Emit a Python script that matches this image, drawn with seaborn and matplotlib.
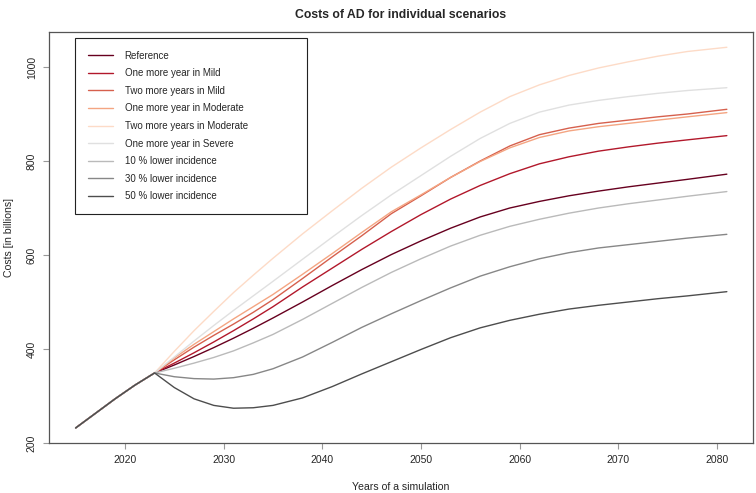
import numpy as np
import pandas as pd
import matplotlib
matplotlib.use("Agg")
import matplotlib.pyplot as plt
import seaborn as sns

# ---- data ----
history_years = [2015, 2017, 2019, 2021]
history_costs = [232, 263, 294, 323]

years = [2023, 2025, 2027, 2029, 2031, 2033, 2035, 2038, 2041, 2044, 2047,
         2050, 2053, 2056, 2059, 2062, 2065, 2068, 2071, 2074, 2077, 2081]

reference = [349, 366, 384, 403, 423, 444, 466, 500, 535, 569, 601,
             630, 657, 681, 700, 714, 726, 736, 745, 753, 761, 772]
mild_1 = [349, 370, 392, 415, 439, 464, 490, 532, 572, 612, 650,
          686, 719, 748, 773, 794, 809, 821, 830, 838, 845, 854]
mild_2 = [349, 377, 404, 429, 453, 478, 505, 550, 596, 641, 688,
          726, 765, 800, 832, 856, 870, 880, 887, 894, 900, 910]
moderate_1 = [349, 381, 410, 437, 464, 490, 516, 559, 603, 648, 692,
              728, 765, 799, 828, 850, 864, 873, 880, 887, 894, 903]
moderate_2 = [349, 395, 439, 480, 520, 557, 593, 645, 694, 742, 787,
              828, 867, 904, 937, 962, 982, 998, 1011, 1023, 1033, 1042]
severe_1 = [349, 383, 417, 450, 482, 513, 544, 591, 638, 684, 728,
            769, 810, 848, 880, 904, 919, 929, 937, 944, 950, 956]
lower_10 = [349, 359, 370, 382, 396, 413, 431, 463, 497, 531, 563,
            592, 619, 642, 661, 676, 689, 700, 709, 717, 725, 735]
lower_30 = [349, 341, 337, 336, 339, 346, 358, 383, 414, 446, 475,
            503, 530, 555, 575, 592, 605, 615, 622, 629, 636, 644]
lower_50 = [349, 318, 294, 280, 274, 275, 280, 296, 320, 347, 373,
            399, 424, 445, 461, 474, 485, 493, 500, 507, 513, 522]

scenarios = ["Reference", "One more year in Mild", "Two more years in Mild",
             "One more year in Moderate", "Two more years in Moderate",
             "One more year in Severe", "10 % lower incidence",
             "30 % lower incidence", "50 % lower incidence"]
series = [reference, mild_1, mild_2, moderate_1, moderate_2, severe_1,
          lower_10, lower_30, lower_50]
colors = ["#67001F", "#B2182B", "#D6604D", "#F4A582", "#FDDBC7",
          "#E0E0E0", "#BABABA", "#878787", "#4D4D4D"]

x_ticks = [2020, 2030, 2040, 2050, 2060, 2070, 2080]
y_ticks = [200, 400, 600, 800, 1000]

rows = []
for name, vals in zip(scenarios, series):
    for y, v in zip(history_years + years, history_costs + vals):
        rows.append({"Year": y, "Cost": v, "Scenario": name})
df = pd.DataFrame(rows)

# ---- style ----
sns.set_style("white")
plt.rcParams["font.family"] = ["Liberation Sans", "DejaVu Sans"]

fig = plt.figure(figsize=(7.56, 4.93), dpi=100)
ax = fig.add_axes([49 / 756, 1 - 443 / 493, 704 / 756, 411 / 493])

sns.lineplot(data=df, x="Year", y="Cost", hue="Scenario", hue_order=scenarios,
             palette=colors, ax=ax, linewidth=1.0, legend=True)

ax.set_xlim(2012.3, 2083.65)
ax.set_ylim(200, 1074.5)
ax.set_xticks(x_ticks)
ax.set_yticks(y_ticks)
ax.tick_params(axis="both", which="major", labelsize=7.5, length=4.3, width=0.8,
               color="#999999", pad=4.5, direction="out", left=True, bottom=True)
for lab in ax.get_yticklabels():
    lab.set_rotation(90)
    lab.set_va("center")
for sp in ax.spines.values():
    sp.set_color("#555555")
    sp.set_linewidth(0.9)

ax.set_xlabel("Years of a simulation", fontsize=7.6, labelpad=12)
ax.set_ylabel("Costs [in billions]", fontsize=7.6, labelpad=9)
ax.set_title("Costs of AD for individual scenarios", fontsize=8.8,
             fontweight="bold", pad=10)

handles, labels = ax.get_legend_handles_labels()
leg = ax.legend(handles, labels, loc="upper left", mode="expand",
                bbox_to_anchor=((75 - 49) / 704, (443 - 214) / 411,
                                232 / 704, 176 / 411),
                fontsize=7, frameon=True, fancybox=False, framealpha=1,
                edgecolor="#222222", handlelength=2.6, handletextpad=1.2,
                labelspacing=0.78, borderpad=1.3, borderaxespad=0)
leg.get_frame().set_linewidth(0.8)
for line in leg.get_lines():
    line.set_linewidth(1.0)

fig.savefig("out.png", dpi=100)
